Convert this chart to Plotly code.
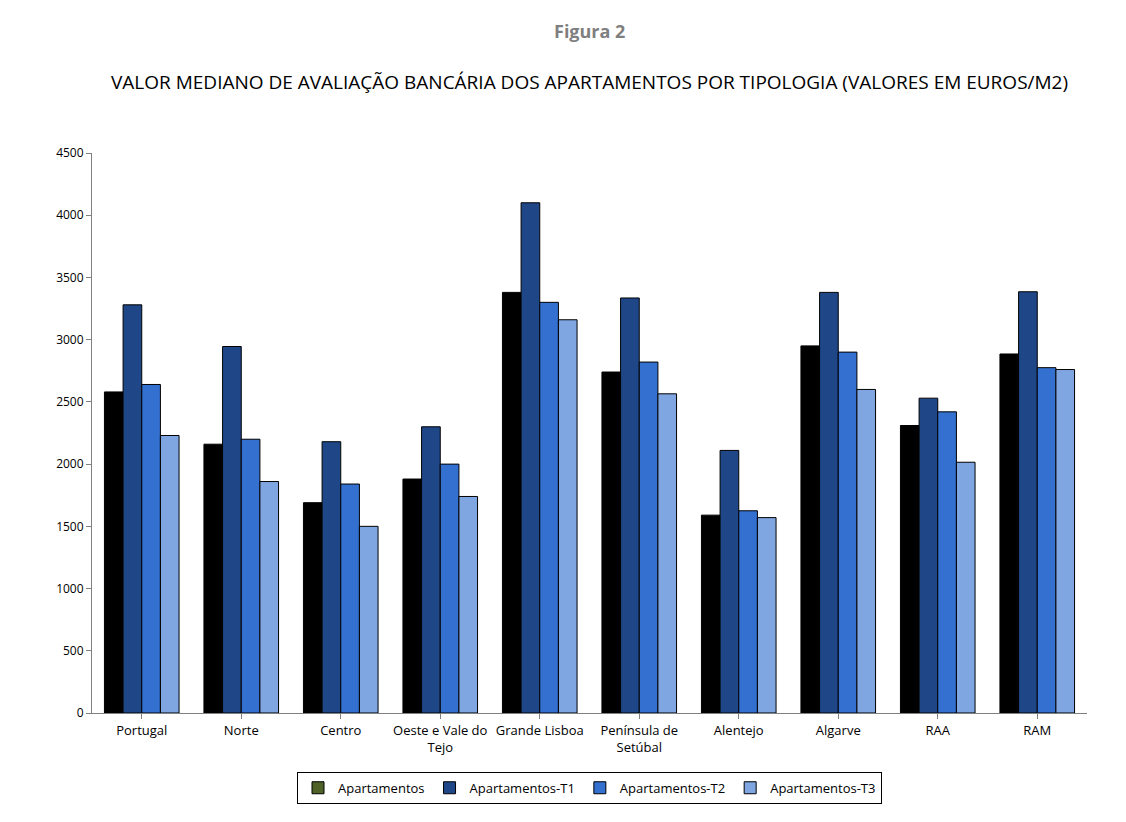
import plotly.graph_objects as go

regions = ["Portugal", "Norte", "Centro", "Oeste e Vale do<br>Tejo", "Grande Lisboa",
           "Península de<br>Setúbal", "Alentejo", "Algarve", "RAA", "RAM"]
apart = [2580, 2160, 1690, 1880, 3380, 2740, 1590, 2950, 2310, 2885]
apart_t1 = [3280, 2945, 2180, 2300, 4100, 3335, 2110, 3380, 2530, 3385]
apart_t2 = [2640, 2200, 1840, 2000, 3300, 2820, 1625, 2900, 2420, 2775]
apart_t3 = [2230, 1860, 1500, 1740, 3160, 2565, 1570, 2600, 2015, 2760]

series = [("Apartamentos", apart, "#000000", "#4F6228"),
          ("Apartamentos-T1", apart_t1, "#1F4788", "#1F4788"),
          ("Apartamentos-T2", apart_t2, "#3370D0", "#3370D0"),
          ("Apartamentos-T3", apart_t3, "#7FA6E0", "#7FA6E0")]

fig = go.Figure()
for name, vals, col, legcol in series:
    fig.add_trace(go.Bar(x=regions, y=vals, name=name, showlegend=False,
                         marker=dict(color=col, line=dict(color="black", width=1))))
# legend-only entries on a hidden axis so they don't take bar slots
for name, vals, col, legcol in series:
    fig.add_trace(go.Bar(x=[0], y=[None], name=name, xaxis="x2", yaxis="y2",
                         marker=dict(color=legcol, line=dict(color="black", width=1))))

fig.update_layout(
    width=1126, height=822,
    barmode="group", bargap=0.25, bargroupgap=0,
    paper_bgcolor="white", plot_bgcolor="white",
    font=dict(family="Open Sans, Noto Sans", size=12, color="black"),
    margin=dict(l=84, r=47, t=145, b=117),
    showlegend=True,
    legend=dict(orientation="h", x=0.5, xanchor="center", y=-0.105, yanchor="top",
                bordercolor="black", borderwidth=1, font=dict(size=13),
                traceorder="normal"),
    xaxis2=dict(visible=False, overlaying="x"),
    yaxis2=dict(visible=False, overlaying="y"),
    annotations=[
        dict(text="<b>Figura 2</b>", x=0.5, xref="paper", yref="paper",
             y=1 + (153 - 17) / 560, showarrow=False,
             font=dict(size=18, color="#7F7F7F")),
        dict(text="VALOR MEDIANO DE AVALIAÇÃO BANCÁRIA DOS APARTAMENTOS POR TIPOLOGIA (VALORES EM EUROS/M2)",
             x=0.5, xref="paper", yref="paper", y=1 + (153 - 67) / 560,
             showarrow=False, font=dict(size=19)),
    ],
)

fig.update_xaxes(showline=True, linecolor="#808080", ticks="outside", ticklen=5,
                 tickcolor="#808080", tickfont=dict(size=13), selector=dict(anchor="y"))
fig.update_layout(xaxis=dict(showline=True, linecolor="#808080", ticks="outside", ticklen=5,
                             tickcolor="#808080", tickfont=dict(size=13)))
fig.update_layout(yaxis=dict(range=[0, 4500], dtick=500, showgrid=False, showline=True,
                             linecolor="#808080", ticks="outside", ticklen=5,
                             tickcolor="#808080", tickfont=dict(size=12), zeroline=False))

fig.write_html("out.html")
